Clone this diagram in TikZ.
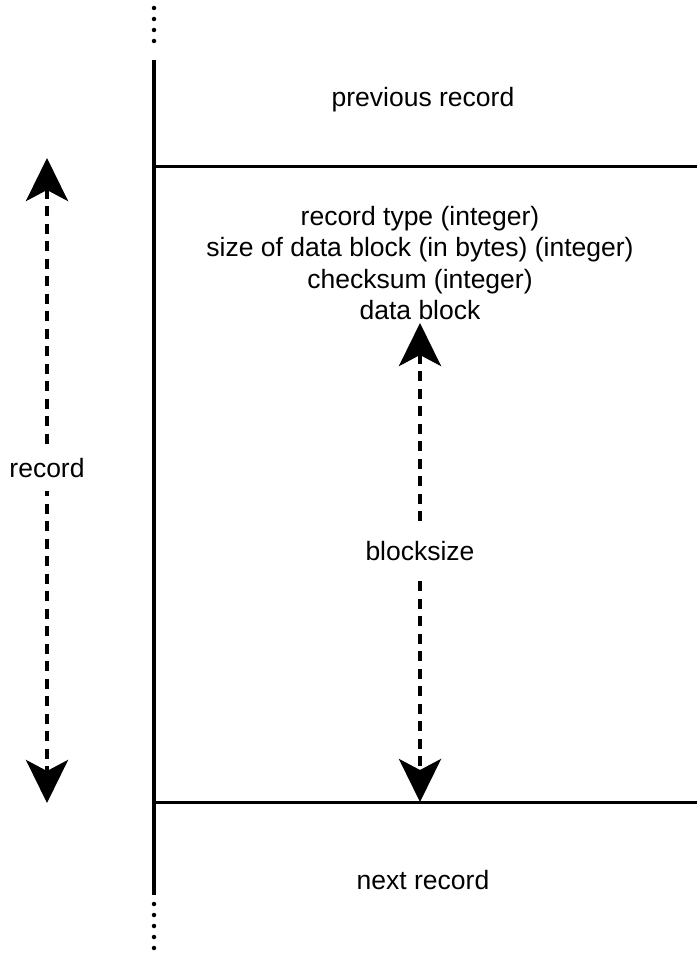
\documentclass[tikz,border=0pt]{standalone}
\usepackage{fontspec}
\setmainfont{Liberation Sans}
\usetikzlibrary{arrows.meta}
\begin{document}
\begin{tikzpicture}[x=1pt,y=-1pt,
  bar/.style={line width=4pt},
  sep/.style={line width=3pt},
  dots/.style={line width=4.5pt, line cap=round, dash pattern=on 0pt off 11pt},
  dim/.style={line width=4pt, dash pattern=on 10pt off 7.5pt,
    {Stealth[length=43pt,width=42pt,inset=11pt]}-{Stealth[length=43pt,width=42pt,inset=11pt]}},
  lbl/.style={font=\fontsize{26.5}{31.5}\selectfont, inner sep=0pt, fill=white, align=center}
]
\useasboundingbox (0,0) rectangle (697,966);
% main vertical line
\coordinate (vt) at (154,60);
\coordinate (vb) at (154,895);
\coordinate (dt) at (154,8);
\coordinate (db) at (154,956);
\draw[bar] (vt) -- (vb);
\draw[dots] (dt) -- (154,52);
\draw[dots] (154,904) -- (db);
% separators
\coordinate (s1l) at (154,166);
\coordinate (s1r) at (697,166);
\coordinate (s2l) at (154,802);
\coordinate (s2r) at (697,802);
\draw[sep] (s1l) -- (s1r);
\draw[sep] (s2l) -- (s2r);
% texts
\node[lbl] (prev) at (423,100) {previous record};
\node[lbl] (rec) at (420,263) {record type (integer)\\size of data block (in bytes) (integer)\\checksum (integer)\\data block};
\node[lbl] (next) at (423,880) {next record};
% record arrow
\coordinate (rt) at (47,158);
\coordinate (rb) at (47,803);
\draw[dim] (rt) -- (rb);
\node[lbl, inner ysep=13pt, inner xsep=2pt] (recl) at (47,468) {record};
% blocksize arrow
\coordinate (bt) at (420,323);
\coordinate (bb) at (420,802);
\draw[dim] (bt) -- (bb);
\node[lbl, inner ysep=13pt, inner xsep=2pt] (bs) at (420,551) {blocksize};
\end{tikzpicture}
\end{document}
